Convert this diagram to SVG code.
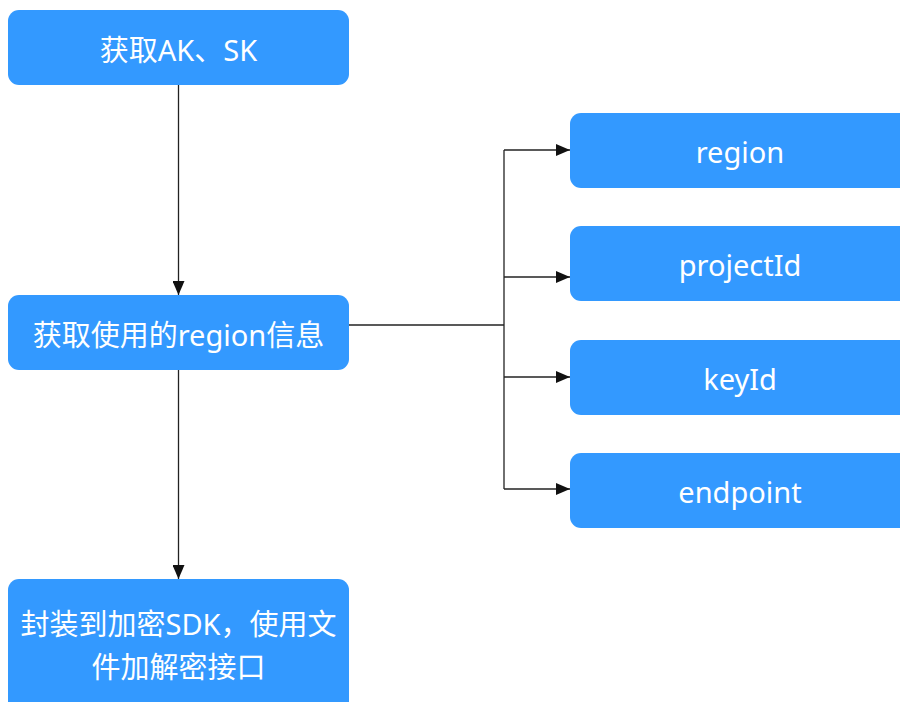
<svg xmlns="http://www.w3.org/2000/svg" width="900" height="702" viewBox="0 0 900 702">
<defs>
<style>
.box{fill:#3399ff;}
.t{fill:#ffffff;font-family:"Noto Sans","Noto Sans CJK SC",sans-serif;font-size:29px;text-anchor:middle;}
.ln{stroke:#222;stroke-width:1.3;fill:none;}
</style>
<marker id="ah" markerWidth="14" markerHeight="12" refX="14" refY="6" orient="auto" markerUnits="userSpaceOnUse">
<path d="M0,0 L14,6 L0,12 Z" fill="#111"/>
</marker>
</defs>
<rect width="900" height="702" fill="#ffffff"/>
<g id="connectors">
<line class="ln" x1="178.5" y1="85" x2="178.5" y2="295" marker-end="url(#ah)"/>
<line class="ln" x1="178.5" y1="370" x2="178.5" y2="579" marker-end="url(#ah)"/>
<polyline class="ln" points="349,325 504,325"/>
<line class="ln" x1="504" y1="150" x2="504" y2="489"/>
<line class="ln" x1="504" y1="150" x2="570" y2="150" marker-end="url(#ah)"/>
<line class="ln" x1="504" y1="277" x2="570" y2="277" marker-end="url(#ah)"/>
<line class="ln" x1="504" y1="377" x2="570" y2="377" marker-end="url(#ah)"/>
<line class="ln" x1="504" y1="489" x2="570" y2="489" marker-end="url(#ah)"/>
</g>
<g id="n1">
<rect class="box" x="8" y="10" width="341" height="75" rx="11"/>
<text class="t" x="178.5" y="61">获取AK、SK</text>
</g>
<g id="n2">
<rect class="box" x="8" y="295" width="341" height="75" rx="11"/>
<text class="t" x="178.5" y="346">获取使用的region信息</text>
</g>
<g id="n3">
<rect class="box" x="8" y="579" width="341" height="135" rx="11"/>
<text class="t" x="178.5" y="635">封装到加密SDK，使用文</text>
<text class="t" x="178.5" y="678">件加解密接口</text>
</g>
<g id="r1">
<rect class="box" x="570" y="113" width="345" height="75" rx="11"/>
<text class="t" x="740" y="163">region</text>
</g>
<g id="r2">
<rect class="box" x="570" y="226" width="345" height="75" rx="11"/>
<text class="t" x="740" y="276">projectId</text>
</g>
<g id="r3">
<rect class="box" x="570" y="340" width="345" height="75" rx="11"/>
<text class="t" x="740" y="390">keyId</text>
</g>
<g id="r4">
<rect class="box" x="570" y="453" width="345" height="75" rx="11"/>
<text class="t" x="740" y="503">endpoint</text>
</g>
</svg>
